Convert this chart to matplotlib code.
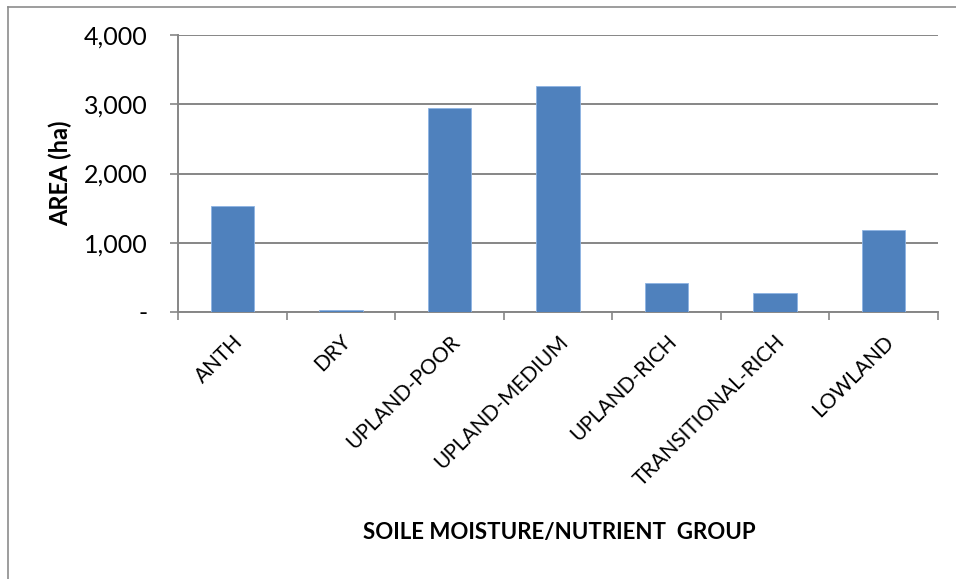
import numpy as np
import matplotlib
matplotlib.use("Agg")
import matplotlib.pyplot as plt
from matplotlib.ticker import FuncFormatter, FixedLocator
from matplotlib.lines import Line2D

# ─── data ───────────────────────────────────────────────
groups = ["ANTH", "DRY", "UPLAND-POOR", "UPLAND-MEDIUM", "UPLAND-RICH",
          "TRANSITIONAL-RICH", "LOWLAND"]
area_ha = [1530, 35, 2950, 3265, 415, 270, 1190]
y_ticks = [0, 1000, 2000, 3000, 4000]

BAR_COLOR  = "#4F81BD"
GRID_COLOR = "#868686"
plt.rcParams["font.family"] = ["Lato", "DejaVu Sans"]

fig = plt.figure(figsize=(9.56, 5.79), dpi=100)
ax = fig.add_axes([178/956, 1 - 312/579, (938-178)/956, (312-35)/579])

x = np.arange(len(groups))
ax.bar(x, area_ha, width=0.4, color=BAR_COLOR, edgecolor="#8EB4E3",
       linewidth=0.6, zorder=3)

ax.set_xlim(-0.5, len(groups) - 0.5)
ax.set_ylim(0, 4000)
ax.yaxis.set_major_locator(FixedLocator(y_ticks))
ax.yaxis.set_major_formatter(FuncFormatter(lambda v, p: "-" if v == 0 else f"{v:,.0f}"))
ax.grid(axis="y", color=GRID_COLOR, linewidth=1.4, zorder=0)

# category ticks between bars, labels at centres
ax.set_xticks(np.arange(-0.5, len(groups)), minor=False)
ax.set_xticklabels([])
ax.set_xticks(x, minor=True)
ax.set_xticklabels(groups, minor=True, rotation=45, ha="right",
                   rotation_mode="anchor", fontsize=15)
ax.tick_params(axis="x", which="minor", length=0, pad=14)
ax.tick_params(axis="x", which="major", length=6, color=GRID_COLOR, width=1.2)
ax.tick_params(axis="y", length=6, color=GRID_COLOR, width=1.2,
               labelsize=18, pad=16)

for side in ["top", "right"]:
    ax.spines[side].set_visible(False)
for side in ["left", "bottom"]:
    ax.spines[side].set_color(GRID_COLOR)
    ax.spines[side].set_linewidth(1.4)

ax.set_ylabel("AREA (ha)", fontsize=17, fontweight="bold", labelpad=8)
fig.text(0.585, 1 - 533/579, "SOILE MOISTURE/NUTRIENT  GROUP", ha="center",
         va="center", fontsize=16, fontweight="bold")

# outer chart frame (left + top visible)
fig.add_artist(Line2D([8/956, 8/956], [0, 1 - 7/579], transform=fig.transFigure,
                      color="#8C8C8C", linewidth=1.2))
fig.add_artist(Line2D([8/956, 1], [1 - 7/579, 1 - 7/579], transform=fig.transFigure,
                      color="#8C8C8C", linewidth=1.2))

fig.savefig("out.png", dpi=100, facecolor="white")
